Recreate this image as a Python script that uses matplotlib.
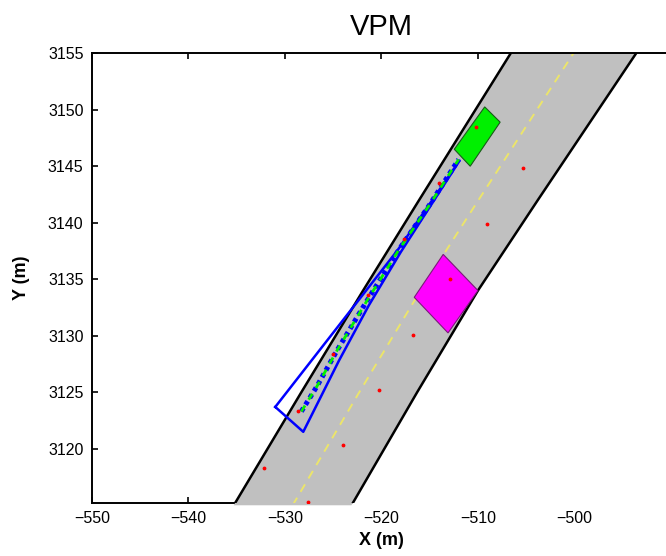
import matplotlib

matplotlib.use("Agg")
import matplotlib.pyplot as plt
from matplotlib.patches import Polygon

plt.rcParams["font.family"] = ["Liberation Sans", "DejaVu Sans"]

# road geometry (sampled along y)
road_y = [3115.0, 3125.0, 3134.0, 3142.0, 3155.0]
road_left_x = [-535.3, -528.3, -521.9, -516.1, -506.6]
road_right_x = [-523.1, -516.3, -510.0, -503.8, -493.6]
lane_center_x = [-529.2, -522.3, -515.95, -509.95, -500.1]

# lane reference points (red dots)
left_lane_x = [-532.2, -528.6, -525.06, -521.4, -517.7, -514.0, -510.2]
left_lane_y = [3118.3, 3123.35, 3128.4, 3133.6, 3138.6, 3143.5, 3148.5]
right_lane_x = [-527.6, -524.0, -520.3, -516.7, -512.9, -509.1, -505.3]
right_lane_y = [3115.3, 3120.3, 3125.2, 3130.1, 3135.06, 3139.9, 3144.8]

# vehicles
ego_x = [-509.3, -507.7, -510.8, -512.45]
ego_y = [3150.25, 3148.9, 3145.0, 3146.5]
obst_x = [-513.6, -510.0, -513.1, -516.6]
obst_y = [3137.2, 3134.0, 3130.25, 3133.4]

# predicted path and its uncertainty cone
traj_x = [-528.3, -526.7, -524.6, -521.5, -518.2, -515.0, -512.0]
traj_y = [3123.3, 3125.5, 3128.7, 3133.1, 3137.6, 3141.6, 3145.6]
cone_x = [-531.0, -518.3, -511.9, -518.0, -521.3, -524.4, -528.1, -531.0]
cone_y = [3123.7, 3137.6, 3145.5, 3137.4, 3132.7, 3127.8, 3121.5, 3123.7]

x_lim = (-550, -490.1)
y_lim = (3115.2, 3155)

fig = plt.figure(figsize=(6.66, 5.56), dpi=100)
ax = fig.add_axes([0.138, 0.0953, 0.868, 0.809])
ax.set_xlim(*x_lim)
ax.set_ylim(*y_lim)

road = Polygon(list(zip(road_left_x, road_y)) + list(zip(road_right_x, road_y))[::-1],
               closed=True, facecolor="#c0c0c0", edgecolor="none", zorder=3, clip_on=False)
ax.add_patch(road)
# off-road area on the right hides the axis frame there
off_road = Polygon(list(zip(road_right_x, road_y)) + [(x_lim[1] + 1, road_y[-1]), (x_lim[1] + 1, road_y[0])],
                   closed=True, facecolor="white", edgecolor="none", zorder=3, clip_on=False)
ax.add_patch(off_road)

ax.plot(road_left_x, road_y, color="black", lw=1.8, zorder=4)
ax.plot(road_right_x, road_y, color="black", lw=1.8, zorder=4)
ax.plot(lane_center_x, road_y, color="#ece56a", lw=1.4, ls=(0, (4.5, 3.5)), zorder=4)

ax.plot(left_lane_x, left_lane_y, ".", color="red", ms=3.5, zorder=6)
ax.plot(right_lane_x, right_lane_y, ".", color="red", ms=3.5, zorder=6)

ax.add_patch(Polygon(list(zip(obst_x, obst_y)), closed=True, facecolor="#ff00ff",
                     edgecolor="#7a1a7a", lw=0.8, zorder=4))
ax.add_patch(Polygon(list(zip(ego_x, ego_y)), closed=True, facecolor="#00f000",
                     edgecolor="#1a5a1a", lw=0.8, zorder=4))

ax.plot(cone_x, cone_y, color="blue", lw=1.8, zorder=5)
ax.plot(traj_x, traj_y, color="blue", lw=3.6, ls=(0, (0.8, 0.8)), zorder=5)
ax.plot(traj_x, traj_y, color="#00f000", lw=2.0, ls=(0, (2.5, 2.5)), zorder=5)

ax.set_xticks([-550, -540, -530, -520, -510, -500])
ax.set_xticklabels(["\u2212550", "\u2212540", "\u2212530", "\u2212520", "\u2212510", "\u2212500"])
ax.set_yticks([3120, 3125, 3130, 3135, 3140, 3145, 3150, 3155])
ax.tick_params(direction="in", length=4, width=1.2, top=True, right=False,
               labelsize=11.5, pad=6)

for side in ("left", "bottom", "top"):
    ax.spines[side].set_linewidth(1.4)
ax.spines["right"].set_visible(False)
ax.spines["top"].set_zorder(7)

ax.set_title("VPM", fontsize=21, pad=13)
ax.set_xlabel("X (m)", fontsize=13, fontweight="bold", labelpad=4)
ax.set_ylabel("Y (m)", fontsize=13, fontweight="bold", labelpad=13)

fig.savefig("out.png", dpi=100)
